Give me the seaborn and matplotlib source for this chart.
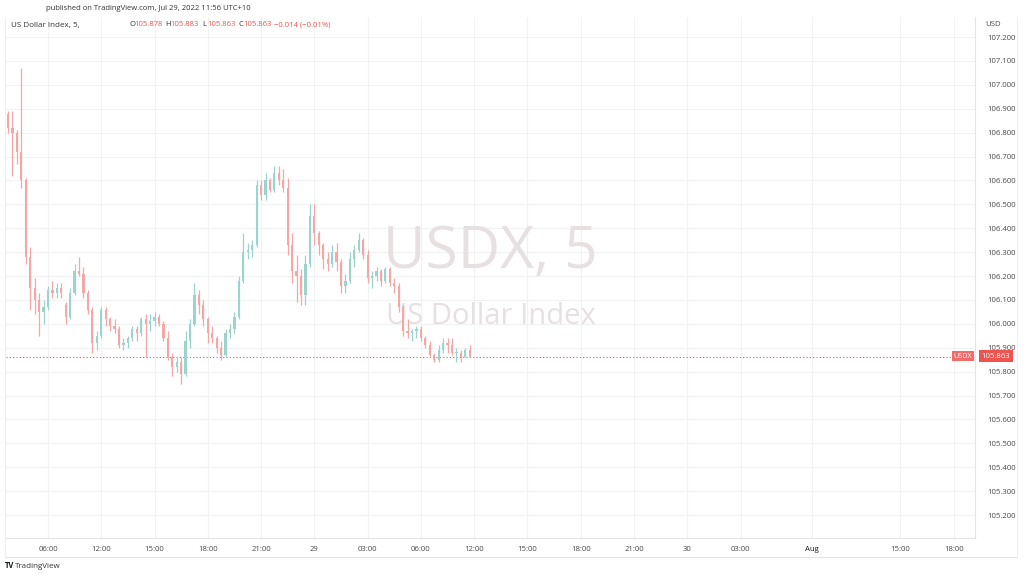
import matplotlib.pyplot as plt
import pandas as pd
import seaborn as sns
from matplotlib.lines import Line2D

sns.set_style('white')
plt.rcParams['font.family'] = ['Open Sans', 'DejaVu Sans']

# 15-minute candles, USDX, Jul 28 03:45 -> Jul 29 11:45 (UTC+10), session break 07:00-10:00
opens = [106.88, 106.82, 106.80, 106.72, 106.60, 106.28, 106.15, 106.10, 106.05, 106.07,
         106.14, 106.13, 106.15, 106.08, 106.03, 106.13, 106.22, 106.21, 106.13, 106.06,
         105.92, 105.95, 106.06, 106.02, 105.99, 105.98, 105.91, 105.92, 105.94, 105.98,
         105.96, 106.02, 106.00, 106.01, 106.03, 106.00, 105.94, 105.86, 105.82, 105.84,
         105.79, 105.93, 106.00, 106.12, 106.08, 106.02, 105.96, 105.94, 105.90, 105.87,
         105.96, 105.98, 106.03, 106.18, 106.30, 106.31, 106.33, 106.58, 106.54, 106.60,
         106.56, 106.63, 106.60, 106.57, 106.33, 106.22, 106.20, 106.12, 106.25, 106.45,
         106.38, 106.33, 106.27, 106.25, 106.30, 106.26, 106.16, 106.18, 106.27, 106.31,
         106.35, 106.29, 106.19, 106.20, 106.22, 106.18, 106.23, 106.17, 106.16, 106.07,
         105.97, 105.96, 105.97, 105.98, 105.94, 105.91, 105.87, 105.85, 105.89, 105.92,
         105.91, 105.88, 105.88, 105.86, 105.89]
highs = [106.89, 106.89, 106.81, 107.07, 106.61, 106.32, 106.19, 106.13, 106.10, 106.16,
         106.18, 106.17, 106.17, 106.09, 106.15, 106.25, 106.28, 106.24, 106.14, 106.07,
         105.97, 106.07, 106.07, 106.03, 106.02, 105.99, 105.94, 105.95, 105.99, 105.99,
         106.03, 106.04, 106.04, 106.05, 106.04, 106.01, 105.97, 105.88, 105.86, 105.86,
         105.97, 106.02, 106.17, 106.14, 106.10, 106.03, 105.99, 105.95, 105.93, 105.98,
         106.00, 106.05, 106.20, 106.38, 106.34, 106.35, 106.60, 106.60, 106.63, 106.61,
         106.66, 106.66, 106.65, 106.61, 106.38, 106.29, 106.23, 106.29, 106.50, 106.50,
         106.39, 106.34, 106.30, 106.33, 106.34, 106.27, 106.21, 106.30, 106.33, 106.38,
         106.36, 106.31, 106.22, 106.24, 106.23, 106.24, 106.24, 106.19, 106.17, 106.08,
         106.02, 105.98, 105.99, 105.99, 105.95, 105.93, 105.88, 105.91, 105.94, 105.94,
         105.94, 105.90, 105.89, 105.90, 105.91]
lows = [106.80, 106.62, 106.67, 106.57, 106.25, 106.06, 106.04, 105.95, 106.00, 106.06,
        106.11, 106.11, 106.11, 106.00, 106.02, 106.12, 106.20, 106.11, 106.04, 105.88,
        105.89, 105.94, 105.99, 105.97, 105.96, 105.90, 105.89, 105.90, 105.93, 105.93,
        105.95, 105.86, 105.97, 105.99, 105.99, 105.93, 105.85, 105.78, 105.80, 105.75,
        105.78, 105.90, 105.99, 106.04, 105.99, 105.92, 105.92, 105.88, 105.85, 105.86,
        105.94, 105.96, 106.02, 106.17, 106.27, 106.28, 106.32, 106.52, 106.52, 106.55,
        106.55, 106.58, 106.55, 106.29, 106.17, 106.09, 106.08, 106.08, 106.24, 106.33,
        106.29, 106.23, 106.22, 106.24, 106.22, 106.13, 106.13, 106.17, 106.24, 106.30,
        106.27, 106.17, 106.15, 106.18, 106.16, 106.17, 106.16, 106.13, 106.05, 105.95,
        105.94, 105.93, 105.94, 105.93, 105.90, 105.86, 105.84, 105.84, 105.88, 105.88,
        105.87, 105.84, 105.84, 105.86, 105.86]
closes = [106.82, 106.80, 106.72, 106.60, 106.28, 106.15, 106.10, 106.05, 106.07, 106.14,
          106.13, 106.15, 106.13, 106.03, 106.13, 106.22, 106.21, 106.13, 106.06, 105.92,
          105.95, 106.06, 106.02, 105.99, 105.98, 105.91, 105.92, 105.94, 105.98, 105.96,
          106.02, 106.00, 106.01, 106.03, 106.00, 105.94, 105.86, 105.82, 105.84, 105.79,
          105.93, 106.00, 106.12, 106.08, 106.02, 105.96, 105.94, 105.90, 105.87, 105.96,
          105.98, 106.03, 106.18, 106.30, 106.31, 106.33, 106.58, 106.54, 106.60, 106.56,
          106.63, 106.60, 106.57, 106.33, 106.22, 106.20, 106.12, 106.25, 106.45, 106.38,
          106.33, 106.27, 106.25, 106.30, 106.26, 106.16, 106.18, 106.27, 106.31, 106.35,
          106.29, 106.19, 106.20, 106.22, 106.18, 106.23, 106.17, 106.16, 106.07, 105.97,
          105.96, 105.97, 105.98, 105.94, 105.91, 105.87, 105.85, 105.89, 105.92, 105.91,
          105.88, 105.88, 105.86, 105.89, 105.863]

# time axis (bar slots, trading-session compressed)
tick_slots = [9, 21, 33, 45, 57, 69, 81, 93, 105, 117, 129, 141, 153, 165, 181, 201, 213]
tick_labels = ['06:00', '12:00', '15:00', '18:00', '21:00', '29', '03:00', '06:00', '12:00',
               '15:00', '18:00', '21:00', '30', '03:00', 'Aug', '15:00', '18:00']
price_ticks = [105.2, 105.3, 105.4, 105.5, 105.6, 105.7, 105.8, 105.9, 106.0, 106.1,
               106.2, 106.3, 106.4, 106.5, 106.6, 106.7, 106.8, 106.9, 107.0, 107.1, 107.2]
last_price = 105.863

UP = '#9bd4cc'
DOWN = '#f4a7a5'
RED = '#ef5350'
GRID = '#f0f1f3'
TXT = '#4a4a4a'

df = pd.DataFrame({'open': opens, 'high': highs, 'low': lows, 'close': closes})
df['slot'] = range(len(df))
df['color'] = [UP if c >= o else DOWN for o, c in zip(df['open'], df['close'])]
df['body_lo'] = df[['open', 'close']].min(axis=1)
df['body_h'] = (df['close'] - df['open']).abs().clip(lower=0.004)

fig = plt.figure(figsize=(10.24, 5.78), dpi=100)
ax = fig.add_axes([6 / 1024, 1 - 538 / 578, 969 / 1024, 521 / 578])

ax.vlines(df['slot'], df['low'], df['high'], colors=df['color'], linewidth=0.9, zorder=3)
ax.bar(df['slot'], df['body_h'], bottom=df['body_lo'], width=0.5, color=df['color'],
       linewidth=0, zorder=3)

ax.axhline(last_price, color=RED, linestyle=(0, (1, 2)), linewidth=0.8, zorder=2)

ax.set_xlim(-0.45, 217.8)
ax.set_ylim(105.104, 107.284)
ax.set_xticks(tick_slots)
ax.set_xticklabels(tick_labels)
ax.set_yticks(price_ticks)
ax.set_yticklabels([f'{p:.3f}' for p in price_ticks])
ax.yaxis.tick_right()
ax.tick_params(axis='both', length=0, labelsize=5.6, labelcolor=TXT)
ax.tick_params(axis='x', pad=6)
ax.tick_params(axis='y', pad=9)
for lab in ax.get_xticklabels():
    if lab.get_text() == 'Aug':
        lab.set_color('#131722')
ax.grid(True, color=GRID, linewidth=0.8, zorder=0)
for side in ['top', 'left']:
    ax.spines[side].set_visible(False)
for side in ['right', 'bottom']:
    ax.spines[side].set_color('#e4e4e4')
    ax.spines[side].set_linewidth(0.8)

# watermark
ax.text(0.5, 0.548, 'USDX, 5', transform=ax.transAxes, ha='center', va='center',
        fontsize=42, color='#e7e0e1', zorder=1)
ax.text(0.5, 0.425, 'US Dollar Index', transform=ax.transAxes, ha='center', va='center',
        fontsize=21, color='#e7e0e1', zorder=1)

# header
fig.text(46 / 1024, 1 - 9 / 578, 'published on TradingView.com, Jul 29, 2022 11:56 UTC+10',
         fontsize=5.5, color='#333333', va='center')
fig.text(11 / 1024, 1 - 25 / 578, 'US Dollar Index, 5,', fontsize=5.8, color='#333333', va='center')
ohlc = [('O', '105.878'), ('H', '105.883'), ('L', '105.863'), ('C', '105.863')]
xpos = 129
for key, val in ohlc:
    fig.text(xpos / 1024, 1 - 25 / 578, key, fontsize=5.5, color='#333333', va='center')
    fig.text((xpos + 5) / 1024, 1 - 25 / 578, val, fontsize=5.5, color=RED, va='center')
    xpos += 36.5
fig.text((xpos - 1) / 1024, 1 - 25 / 578, '\u22120.014 (\u22120.01%)', fontsize=5.5,
         color=RED, va='center')

# right axis currency and last price tags
fig.text(985 / 1024, 1 - 24 / 578, 'USD', fontsize=5.6, color=TXT, va='center')
fig.text(963 / 1024, 1 - 356 / 578, 'USDX', fontsize=5.2, color='white', ha='center', va='center',
         bbox=dict(boxstyle='square,pad=0.25', fc='#f26b68', ec='none'))
fig.text(996 / 1024, 1 - 356 / 578, '105.863', fontsize=5.6, color='white', ha='center',
         va='center', bbox=dict(boxstyle='square,pad=0.3', fc=RED, ec='none'))

# frame of the time scale
fig.add_artist(Line2D([5 / 1024, 1017 / 1024], [1 - 557 / 578] * 2, color='#e4e4e4', lw=0.8))
fig.add_artist(Line2D([5 / 1024] * 2, [1 - 557 / 578, 1 - 17 / 578], color='#eeeeee', lw=0.8))
fig.add_artist(Line2D([1017 / 1024] * 2, [1 - 557 / 578, 1 - 17 / 578], color='#eeeeee', lw=0.8))

# footer
fig.text(5 / 1024, 1 - 566 / 578, 'TV', fontsize=5.5, fontweight='bold', color='#131722', va='center')
fig.text(15 / 1024, 1 - 566 / 578, 'TradingView', fontsize=5.8, color='#333333', va='center')

fig.savefig('out.png', dpi=100, facecolor='white')
